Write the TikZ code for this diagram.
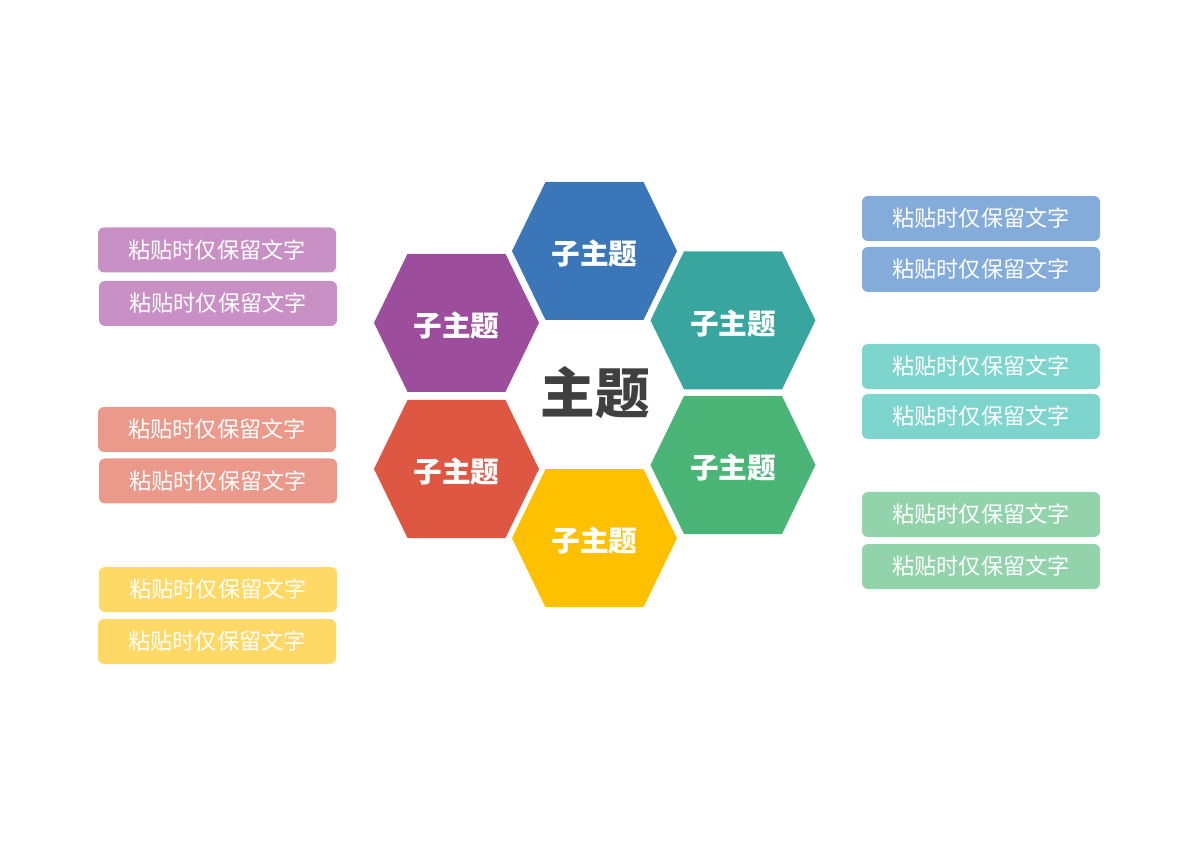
\documentclass[tikz,border=0pt]{standalone}
\usepackage{fontspec}
\setmainfont{Noto Sans CJK SC}
\usepackage{xcolor}
\definecolor{hexblue}{HTML}{3A76B8}
\definecolor{hexteal}{HTML}{38A69F}
\definecolor{hexgreen}{HTML}{4AB577}
\definecolor{hexyellow}{HTML}{FFC000}
\definecolor{hexred}{HTML}{DE5743}
\definecolor{hexpurple}{HTML}{9C4E9C}
\definecolor{boxblue}{HTML}{84ACDA}
\definecolor{boxteal}{HTML}{7DD5CE}
\definecolor{boxgreen}{HTML}{92D3AB}
\definecolor{boxyellow}{HTML}{FFD966}
\definecolor{boxred}{HTML}{EA998A}
\definecolor{boxpurple}{HTML}{C990C6}
\definecolor{maintext}{HTML}{404040}
\tikzset{
  textbox/.style={fill=#1, rounded corners=4.5pt, minimum width=178.5pt, minimum height=33.75pt,
    inner sep=0pt, text=white, font=\fontsize{16.6}{18}\selectfont},
  hexlabel/.style={text=white, font=\fontsize{21.5}{24}\selectfont\bfseries}
}

\begin{document}
\begin{tikzpicture}[x=0.75pt, y=-0.75pt]
                \useasboundingbox (0,0) rectangle (1200,848);
                % hexagons round the centre
                \foreach \nm/\cx/\cy/\col in {hb/594.5/251/hexblue, hp/456.5/322.8/hexpurple, ht/733/320.4/hexteal,
                                             hr/456.5/469/hexred, hg/733/465/hexgreen, hy/594.5/538.2/hexyellow}{
                  \fill[\col, shift={(\cx,\cy)}] (-82.5,0) -- (-49,-69) -- (49,-69) -- (82.5,0) -- (49,69) -- (-49,69) -- cycle;
                  \node[hexlabel, yshift=-2pt] (\nm) at (\cx,\cy) {子主题};
                }
                \node[text=maintext, font=\fontsize{41}{46}\selectfont\bfseries] (main) at (595,393) {主题};
                % text boxes, left side
                \node[textbox=boxpurple] (pa) at (217,250) {粘贴时仅保留文字};
                \node[textbox=boxpurple] (pb) at (218,303.5) {粘贴时仅保留文字};
                \node[textbox=boxred] (ra) at (217,429.5) {粘贴时仅保留文字};
                \node[textbox=boxred] (rb) at (218,481) {粘贴时仅保留文字};
                \node[textbox=boxyellow] (ya) at (218,589.5) {粘贴时仅保留文字};
                \node[textbox=boxyellow] (yb) at (217,641.5) {粘贴时仅保留文字};
                % text boxes, right side
                \node[textbox=boxblue] (ba) at (981,218.5) {粘贴时仅保留文字};
                \node[textbox=boxblue] (bb) at (981,269.5) {粘贴时仅保留文字};
                \node[textbox=boxteal] (ta) at (981,366.5) {粘贴时仅保留文字};
                \node[textbox=boxteal] (tb) at (981,416.5) {粘贴时仅保留文字};
                \node[textbox=boxgreen] (ga) at (981,514.5) {粘贴时仅保留文字};
                \node[textbox=boxgreen] (gb) at (981,566.5) {粘贴时仅保留文字};
\end{tikzpicture}
\end{document}
